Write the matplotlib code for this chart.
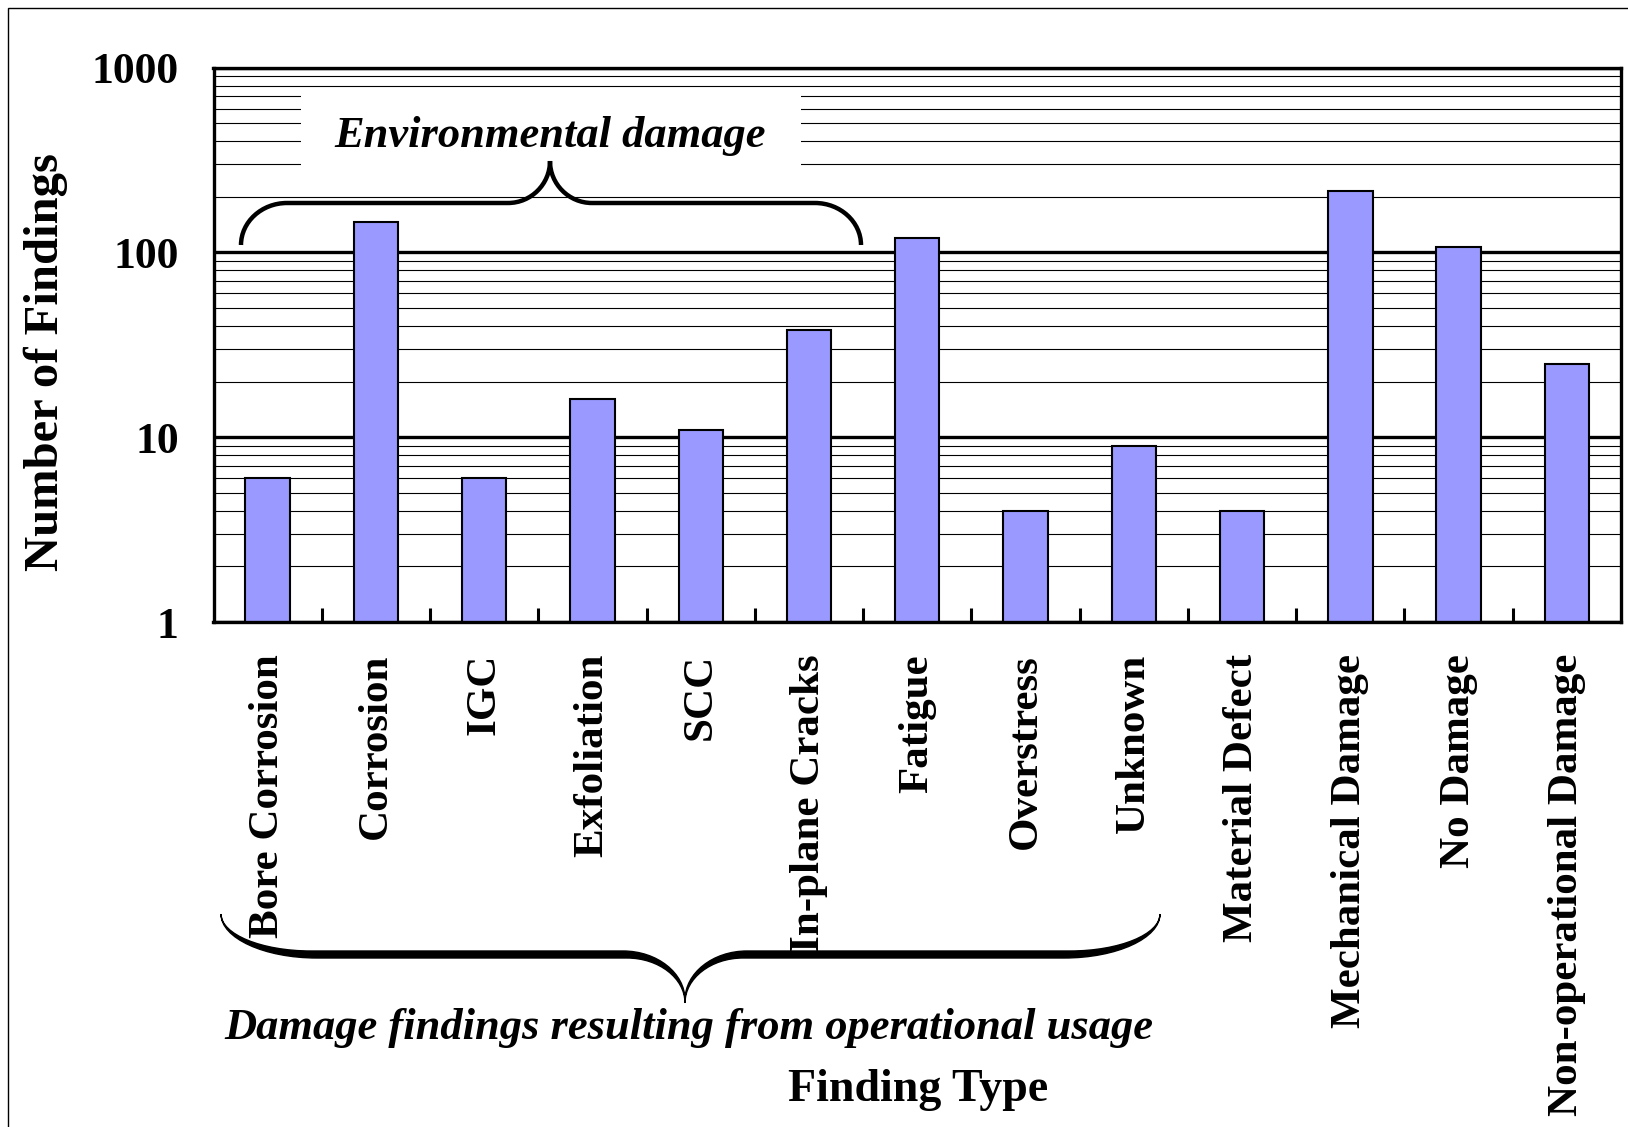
import numpy as np
import matplotlib
matplotlib.use("Agg")
import matplotlib.pyplot as plt
from matplotlib.path import Path
from matplotlib.patches import PathPatch, Rectangle
from matplotlib.ticker import LogLocator, NullFormatter, FixedLocator

# data
categories = ["Bore Corrosion", "Corrosion", "IGC", "Exfoliation", "SCC",
              "In-plane Cracks", "Fatigue", "Overstress", "Unknown",
              "Material Defect", "Mechanical Damage", "No Damage",
              "Non-operational Damage"]
findings = [6, 146, 6, 16, 11, 38, 120, 4, 9, 4, 215, 107, 25]
ytick_vals = [1, 10, 100, 1000]
ytick_labels = ["1", "10", "100", "1000"]

W, H = 1628, 1127
plt.rcParams['font.family'] = ['Liberation Serif', 'DejaVu Serif']

fig = plt.figure(figsize=(W / 100, H / 100), dpi=100)

def fx(x):
    return x / W

def fy(y):
    return 1 - y / H

ax = fig.add_axes([fx(213.5), fy(622), fx(1621) - fx(213.5), fy(67.6) - fy(622)])
x = np.arange(len(categories))
ax.set_axisbelow(True)
ax.bar(x, findings, width=0.41, color="#9999FF", edgecolor="black", linewidth=1.5, zorder=2)

ax.set_yscale("log")
ax.set_ylim(1, 1000)
ax.set_xlim(-0.5, len(categories) - 0.5)
ax.set_yticks(ytick_vals)
ax.set_yticklabels(ytick_labels, fontsize=31.5, fontweight="bold")
ax.yaxis.set_minor_locator(LogLocator(base=10, subs=np.arange(2, 10)))
ax.yaxis.set_minor_formatter(NullFormatter())
ax.tick_params(axis="y", which="both", length=0, pad=25)
ax.grid(True, axis="y", which="major", color="black", linewidth=2.4)
ax.grid(True, axis="y", which="minor", color="black", linewidth=0.8)

ax.set_xticks(x)
ax.set_xticklabels(categories, rotation=90, fontsize=31, fontweight="bold")
ax.tick_params(axis="x", which="major", length=0, pad=23)
ax.xaxis.set_minor_locator(FixedLocator(x[:-1] + 0.5))
ax.tick_params(axis="x", which="minor", direction="in", length=10, width=2.2, color="black")
for s in ax.spines.values():
    s.set_linewidth(2.4)

# white box behind the environmental damage label
ax.add_patch(Rectangle((fx(301), fy(170)), fx(801) - fx(301), fy(90) - fy(170),
                       transform=fig.transFigure, facecolor="white", edgecolor="none", zorder=1))
fig.text(fx(550), fy(136), "Environmental damage", fontsize=32, fontweight="bold",
         style="italic", ha="center", va="center", zorder=5)


def brace_pts(x0, x1, xm, yend, ybase, ytip, r, r2):
    verts = [(x0, yend),
             (x0, yend + 0.55 * (ybase - yend)), (x0 + 0.45 * r, ybase), (x0 + r, ybase),
             (xm - r2, ybase),
             (xm - 0.45 * r2, ybase), (xm, ybase + 0.45 * (ytip - ybase)), (xm, ytip),
             (xm, ybase + 0.45 * (ytip - ybase)), (xm + 0.45 * r2, ybase), (xm + r2, ybase),
             (x1 - r, ybase),
             (x1 - 0.45 * r, ybase), (x1, yend + 0.55 * (ybase - yend)), (x1, yend)]
    codes = [Path.MOVETO, Path.CURVE4, Path.CURVE4, Path.CURVE4, Path.LINETO,
             Path.CURVE4, Path.CURVE4, Path.CURVE4, Path.CURVE4, Path.CURVE4, Path.CURVE4,
             Path.LINETO, Path.CURVE4, Path.CURVE4, Path.CURVE4]
    return verts, codes


# top brace (stroked)
v, c = brace_pts(241, 861, 550, 245, 203, 161, 46, 42)
v = [(fx(a), fy(b)) for a, b in v]
fig.add_artist(PathPatch(Path(v, c), transform=fig.transFigure, facecolor="none",
                         edgecolor="black", linewidth=3.2, capstyle="butt", zorder=6))

# bottom brace (filled, thicker in the middle)
va_, ca = brace_pts(221, 1160, 685, 914, 951, 1000, 90, 62)
vb, cb = brace_pts(221, 1160, 685, 914, 958, 1003, 96, 58)
rev_codes = [Path.LINETO] + cb[1:][::-1]
codes = ca + rev_codes[1:] + [Path.CLOSEPOLY]
verts = va_ + vb[::-1][1:] + [va_[0]]
verts = [(fx(a), fy(b)) for a, b in verts]
fig.add_artist(PathPatch(Path(verts, codes), transform=fig.transFigure, facecolor="black",
                         edgecolor="black", linewidth=1.0, zorder=6))

fig.text(fx(689), fy(1028), "Damage findings resulting from operational usage", fontsize=32,
         fontweight="bold", style="italic", ha="center", va="center")
fig.text(fx(918), fy(1090), "Finding Type", fontsize=33, fontweight="bold", ha="center", va="center")
fig.text(fx(46), fy(362), "Number of Findings", fontsize=35, fontweight="bold",
         rotation=90, ha="center", va="center")

# outer frame
fig.add_artist(Rectangle((fx(8.3), -0.1), 1.2, fy(8.3) + 0.1, transform=fig.transFigure,
                         facecolor="none", edgecolor="black", linewidth=1.0))

fig.savefig("out.png", dpi=100)
